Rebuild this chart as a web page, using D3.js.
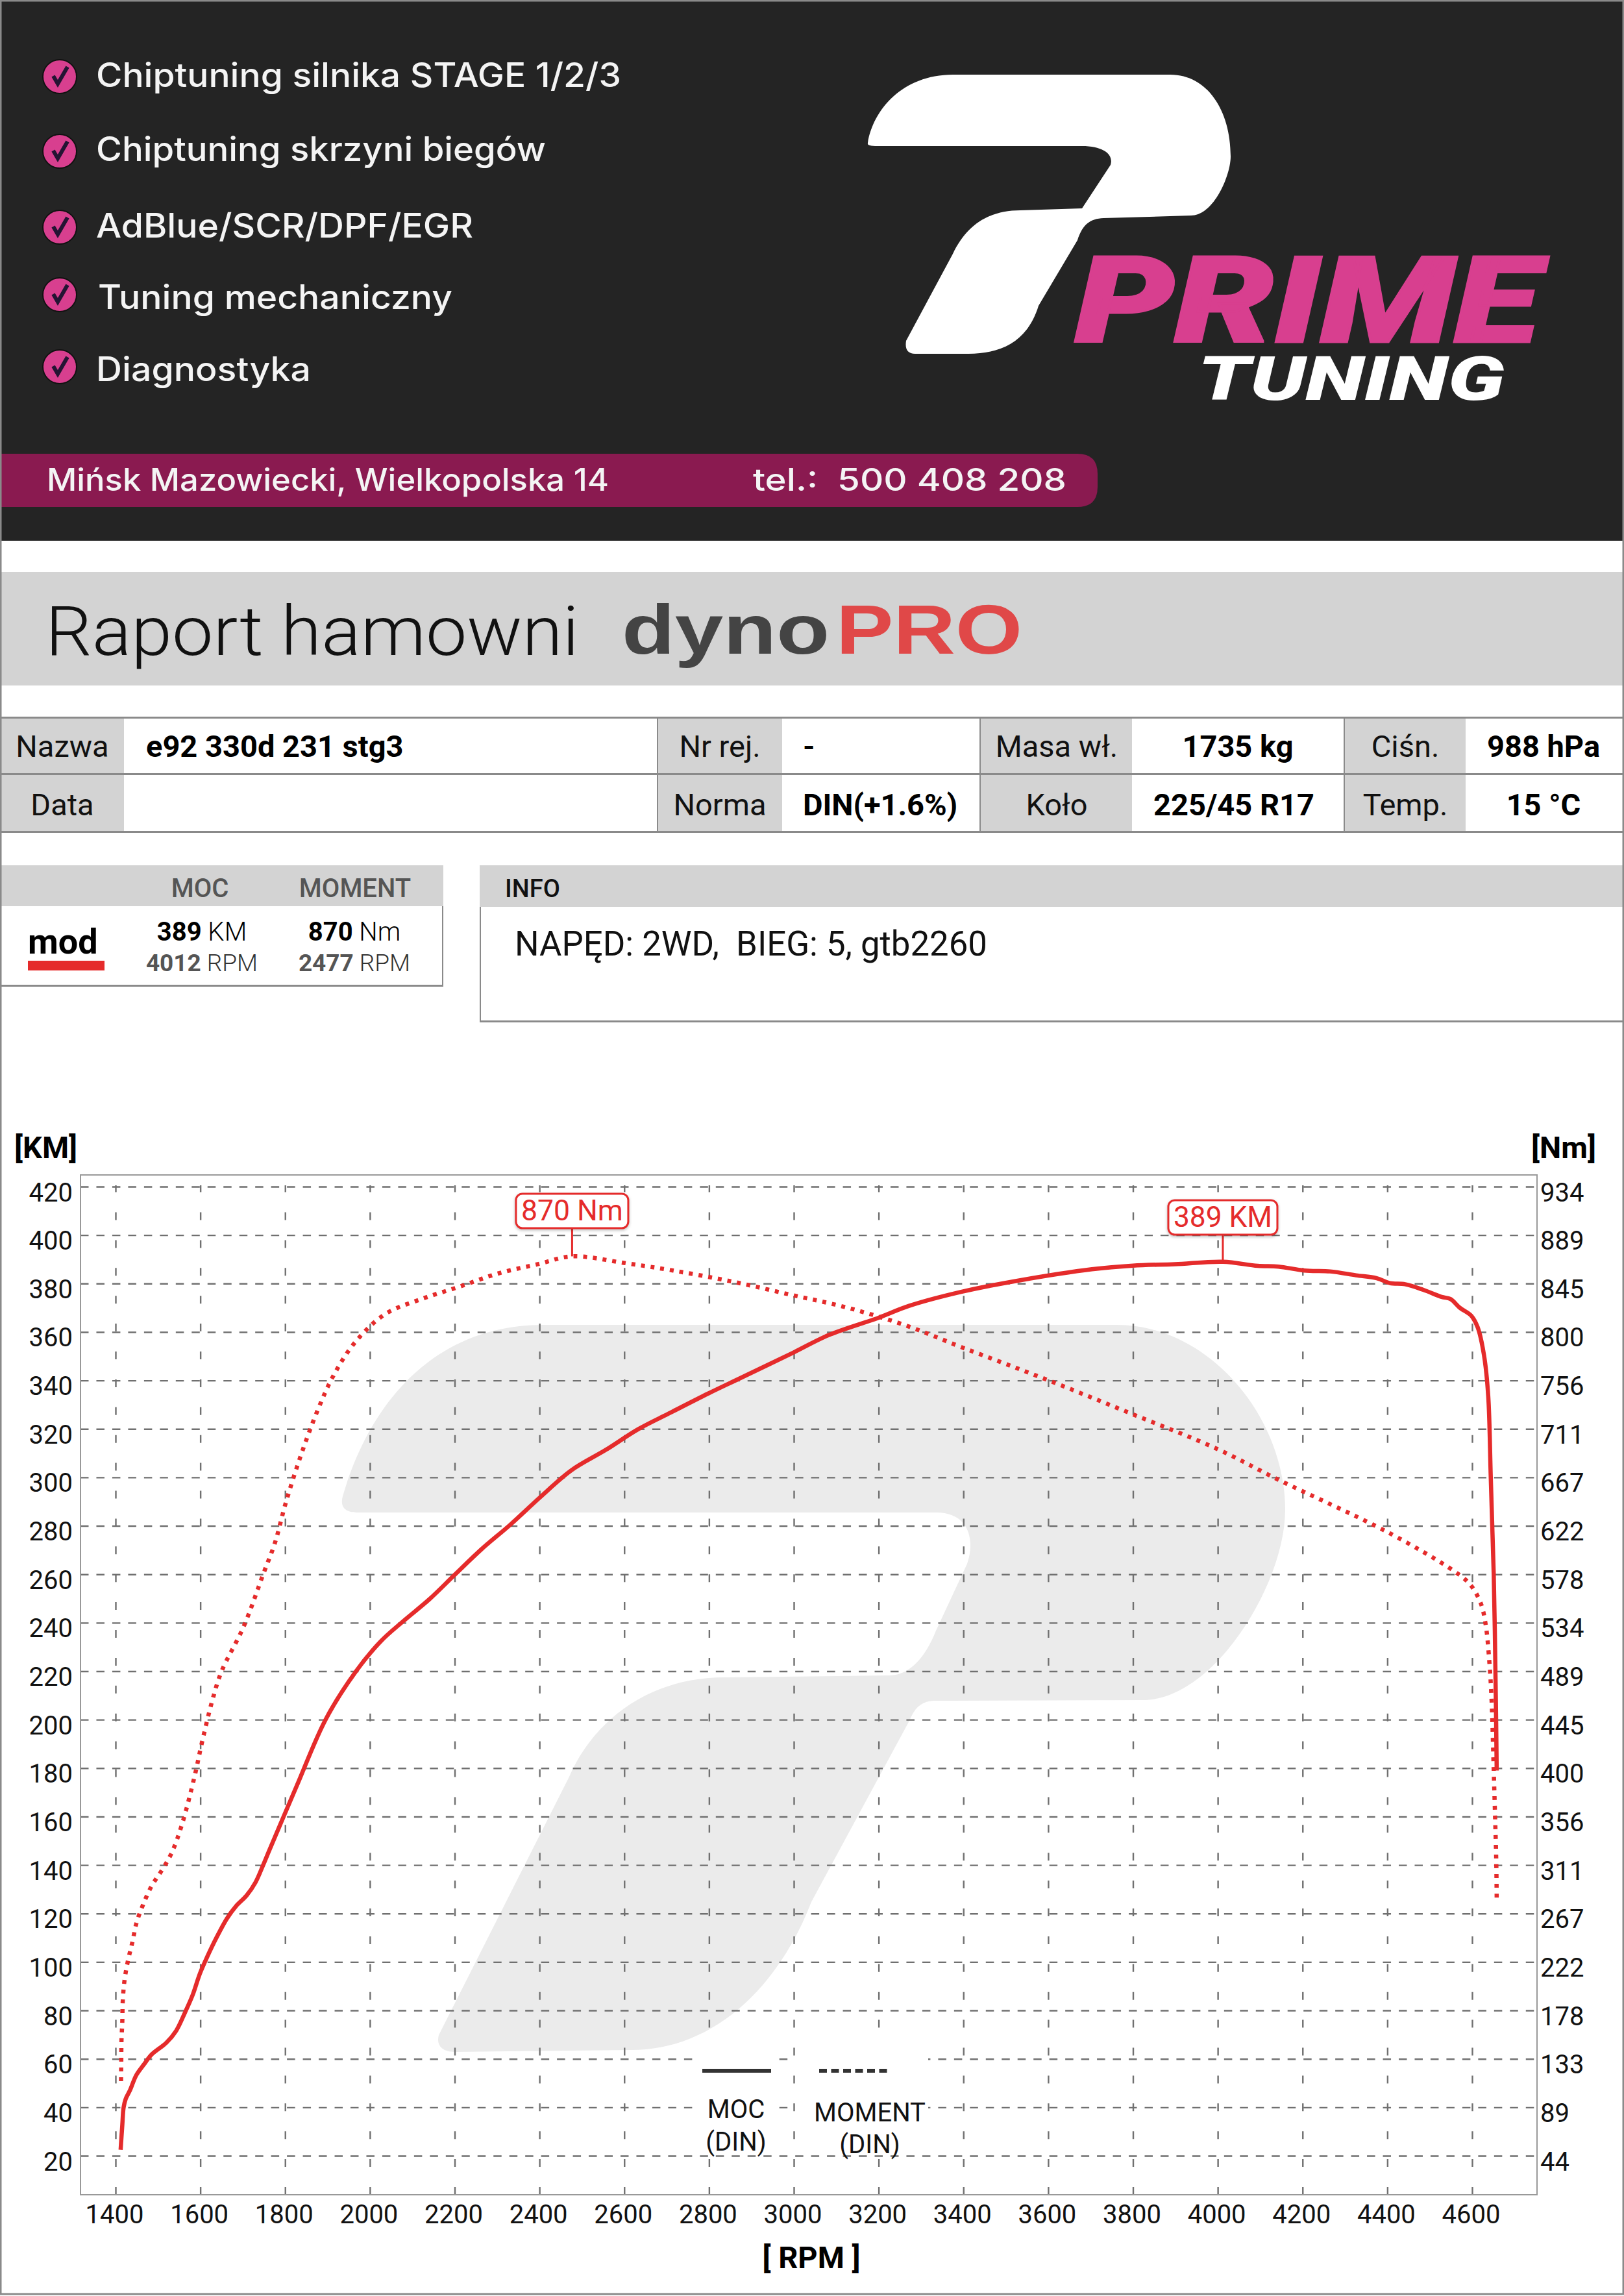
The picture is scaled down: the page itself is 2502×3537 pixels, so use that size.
<!DOCTYPE html>
<html>
<head>
<meta charset="utf-8">
<title>Raport hamowni</title>
<script src="https://d3js.org/d3.v7.min.js"></script>
<style>
  html, body { margin: 0; padding: 0; background: #fff; }
  svg { display: block; }
  text { font-family: Roboto, sans-serif; }
</style>
</head>
<body>
<div id="chart"></div>
<script>
// values
var rpmTicks = [1400, 1600, 1800, 2000, 2200, 2400, 2600, 2800, 3000, 3200, 3400, 3600, 3800, 4000, 4200, 4400, 4600];
var kmTicks = [20, 40, 60, 80, 100, 120, 140, 160, 180, 200, 220, 240, 260, 280, 300, 320, 340, 360, 380, 400, 420];
var nmTicks = [44, 89, 133, 178, 222, 267, 311, 356, 400, 445, 489, 534, 578, 622, 667, 711, 756, 800, 845, 889, 934];

var powerRpm = [1412, 1416, 1419, 1424, 1434, 1449, 1467, 1485, 1520, 1543, 1564, 1582, 1599, 1617, 1638, 1663, 1684, 1709, 1730, 1748, 1763,
    1827, 1896, 1967, 2026, 2077, 2141, 2199, 2263, 2332, 2401, 2475,
    2557, 2633, 2710, 2798, 2873, 3000, 3082, 3200, 3272, 3398,
    3532, 3703, 3800, 3899, 4012, 4094, 4143, 4204, 4265, 4326, 4375, 4406, 4442, 4485, 4528, 4549, 4571, 4598, 4613, 4628, 4638,
    4644, 4651, 4656, 4658];
var powerKm = [22.5, 32.8, 39.9, 43.5, 47, 53.3, 57.7, 61.8, 66.7, 71.6, 79.2, 86.4, 95.2, 102.4, 110, 118, 123, 127.4, 132.8, 139.9, 146.2,
    172.5, 200.2, 219.9, 232.4, 240.4, 249.8, 259.6, 270.3, 280.6, 291.7, 302.9,
    311.4, 319.9, 326.8, 334.6, 340.9, 351.6, 358.7, 365.9, 370.8, 376.7,
    381.3, 385.9, 387.4, 388, 389, 387.3, 387, 385.4, 385, 383.4, 382.2, 380.2, 379.7, 377.4, 374.5, 373.6, 370, 366.7, 362, 350.5, 333.6,
    300, 260, 208, 179];

var torqueRpm = [1413, 1413.5, 1414, 1416, 1417, 1421, 1429, 1440, 1450, 1465, 1485, 1510, 1533, 1557, 1586, 1604, 1628, 1650, 1702, 1750, 1776, 1801,
    1836, 1877, 1916, 1967, 2036, 2123, 2210, 2300, 2398, 2477, 2599, 2715, 2853, 2990, 3125, 3261,
    3400, 3602, 3800, 4000, 4143, 4400, 4558, 4595, 4620, 4632, 4641, 4646, 4651, 4654, 4657, 4658];
var torqueNm = [113, 131, 150, 168, 186, 205, 223, 241, 259, 275, 292, 307, 323, 349, 392, 424, 462, 489, 530, 580, 607, 643,
    686, 729, 762, 792, 817, 831, 842, 854, 863, 870, 864, 857, 847, 835, 823, 807,
    786, 756, 725, 693, 665, 617, 581, 569, 552, 532, 496, 462, 398, 358, 314, 279];

var services = ["Chiptuning silnika STAGE 1/2/3", "Chiptuning skrzyni biegów", "AdBlue/SCR/DPF/EGR", "Tuning mechaniczny", "Diagnostyka"];

var W = 2502, H = 3537;
var red = "#e52b2b", pink = "#d83f8f", band = "#d3d3d3", rule = "#8a8a8a";

var x = d3.scaleLinear().domain([1400, 4600]).range([178, 2268]);
var y = d3.scaleLinear().domain([20, 420]).range([3321, 1828]);
var yNm = d3.scaleLinear().domain([20 * 934 / 420, 934]).range([3321, 1828]);

var plot = {left: 124, right: 2368, top: 1810, bottom: 3381};

var svg = d3.select("#chart").append("svg").attr("width", W).attr("height", H);

function label(parent, str, px, py, size, opts) {
    opts = opts || {};
    var t = parent.append("text")
        .attr("x", px).attr("y", py)
        .attr("font-size", size)
        .attr("fill", opts.fill || "#000")
        .attr("font-weight", opts.weight || 400)
        .attr("text-anchor", opts.anchor || "start")
        .text(str);
    if (opts.family) t.style("font-family", opts.family);
    if (opts.style) t.attr("font-style", opts.style);
    if (opts.width) t.attr("textLength", opts.width).attr("lengthAdjust", "spacingAndGlyphs");
    return t;
}

function rect(parent, x0, y0, w, h, fill) {
    return parent.append("rect").attr("x", x0).attr("y", y0).attr("width", w).attr("height", h).attr("fill", fill);
}

function drawBanner(g) {
    rect(g, 0, 0, W, 833, "#242424");

    var bulletY = [118, 233, 350, 454, 565];
    var baseY = [134, 248, 366, 476, 587];
    var textX = [148, 148, 148, 151, 148];
    var textW = [809, 693, 581, 546, 331];
    services.forEach(function(s, i) {
        var b = g.append("g").attr("transform", "translate(92," + bulletY[i] + ")");
        b.append("circle").attr("r", 26).attr("fill", pink).attr("stroke", "#111").attr("stroke-width", 2);
        b.append("path").attr("d", "M-10,-1 L-3,11 L12,-15").attr("fill", "none").attr("stroke", "#241433").attr("stroke-width", 6);
        label(g, s, textX[i], baseY[i], 52, {fill: "#f4f4f4", weight: 500, family: "Inter, sans-serif", width: textW[i]});
    });

    // big P of the logo
    g.append("path")
        .attr("fill", "#fff")
        .attr("d", "M1337,220 C1345,170 1390,115 1468,115 L1803,115 C1860,115 1896,170 1896,241 " +
            "C1896,270 1870,332 1835,332 L1700,336 C1680,337 1668,345 1660,370 L1600,471 " +
            "C1585,520 1550,545 1492,545 L1410,545 C1398,545 1394,538 1396,525 L1468,391 " +
            "C1490,345 1525,324 1572,324 L1667,321 L1711,254 C1716,238 1700,225 1667,225 L1352,225 " +
            "C1340,225 1336,224 1337,220 Z");

    label(g, "PRIME", 1656, 527, 186, {fill: pink, weight: 900, style: "italic", width: 716})
        .attr("stroke", pink).attr("stroke-width", 3);
    label(g, "TUNING", 1845, 616, 95, {fill: "#fff", weight: 900, style: "italic", width: 473});

    g.append("path")
        .attr("fill", "#8a1a50")
        .attr("d", "M0,699 H1660 Q1691,699 1691,730 V750 Q1691,781 1660,781 H0 Z");
    label(g, "Mińsk Mazowiecki, Wielkopolska 14", 72, 756, 48, {fill: "#f4f4f4", weight: 500, family: "Inter, sans-serif", width: 866});
    label(g, "tel.:  500 408 208", 1160, 756, 48, {fill: "#f4f4f4", weight: 500, family: "Inter, sans-serif", width: 483}).attr("xml:space", "preserve");
}

function drawTitle(g) {
    rect(g, 0, 881, W, 175, band);
    label(g, "Raport hamowni", 70, 1009, 106, {weight: 300, fill: "#111", width: 822});
    label(g, "dyno", 958, 1007, 108, {weight: 700, fill: "#444", family: "'Liberation Sans', sans-serif", width: 320});
    label(g, "PRO", 1288, 1007, 108, {weight: 700, fill: "#e04848", family: "'Liberation Sans', sans-serif", width: 287});
}

function drawTable(g) {
    var cells = [[0, 191], [1013, 1205], [1510, 1744], [2071, 2258]];
    cells.forEach(function(c) { rect(g, c[0], 1106, c[1] - c[0], 176, band); });
    [1106, 1193, 1282].forEach(function(v) { rect(g, 0, v - 2, W, 3, rule); });
    [1013, 1510, 2071].forEach(function(v) { rect(g, v - 1, 1106, 2, 176, rule); });

    var r1 = 1166, r2 = 1256, fs = 47;
    [["Nazwa", 96, r1], ["Data", 96, r2], ["Nr rej.", 1109, r1], ["Norma", 1109, r2],
     ["Masa wł.", 1628, r1], ["Koło", 1628, r2], ["Ciśn.", 2165, r1], ["Temp.", 2165, r2]].forEach(function(c) {
        label(g, c[0], c[1], c[2], fs, {anchor: "middle", fill: "#111"});
    });
    [["e92 330d 231 stg3", 225, r1, "start"], ["-", 1237, r1, "start"], ["DIN(+1.6%)", 1237, r2, "start"],
     ["1735 kg", 1907, r1, "middle"], ["225/45 R17", 1901, r2, "middle"],
     ["988 hPa", 2378, r1, "middle"], ["15 °C", 2378, r2, "middle"]].forEach(function(c) {
        label(g, c[0], c[1], c[2], fs, {anchor: c[3], weight: 700});
    });
}

function drawSummary(g) {
    rect(g, 0, 1333, 683, 63, band);
    rect(g, 0, 1517, 683, 3, rule);
    rect(g, 681, 1396, 2, 124, rule);
    label(g, "MOC", 308, 1382, 40, {anchor: "middle", weight: 500, fill: "#555"});
    label(g, "MOMENT", 547, 1382, 40, {anchor: "middle", weight: 500, fill: "#555"});
    label(g, "mod", 43, 1469, 54, {weight: 700});
    rect(g, 43, 1480, 118, 15, red);

    var v1 = label(g, "389", 311, 1449, 40, {anchor: "middle", weight: 700});
    v1.append("tspan").attr("font-weight", 300).text(" KM");
    var v2 = label(g, "870", 546, 1449, 40, {anchor: "middle", weight: 700});
    v2.append("tspan").attr("font-weight", 300).text(" Nm");
    var r1 = label(g, "4012", 311, 1496, 37, {anchor: "middle", weight: 700, fill: "#555"});
    r1.append("tspan").attr("font-weight", 300).attr("fill", "#333").text(" RPM");
    var r2 = label(g, "2477", 546, 1496, 37, {anchor: "middle", weight: 700, fill: "#555"});
    r2.append("tspan").attr("font-weight", 300).attr("fill", "#333").text(" RPM");

    rect(g, 739, 1333, W - 739, 64, band);
    rect(g, 739, 1397, 2, 177, rule);
    rect(g, 739, 1572, W - 739, 3, rule);
    label(g, "INFO", 778, 1382, 38, {weight: 500, fill: "#111"});
    label(g, "NAPĘD: 2WD,  BIEG: 5, gtb2260", 793, 1472, 54, {fill: "#111", width: 728}).attr("xml:space", "preserve");
}

function drawChart(g) {
    // logo watermark
    g.append("path")
        .attr("fill", "#ebebeb")
        .attr("d", "M528,2305 C570,2160 670,2041 837,2041 L1721,2041 " +
            "C1860,2041 1980,2180 1980,2326 C1980,2440 1870,2619 1761,2619 " +
            "L1442,2620 C1420,2620 1410,2630 1402,2649 L1250,2930 " +
            "C1200,3060 1100,3158 973,3158 L701,3161 C680,3161 672,3150 676,3135 " +
            "L877,2737 C915,2650 1000,2584 1116,2584 L1370,2581 " +
            "C1400,2581 1425,2555 1442,2512 L1490,2409 C1502,2375 1495,2330 1442,2330 " +
            "L550,2330 C530,2330 524,2320 528,2305 Z");

    // grid through the axes' own tick lines
    var gridH = g.append("g").attr("transform", "translate(" + plot.left + ",0)")
        .call(d3.axisRight(y).tickValues(kmTicks).tickSize(plot.right - plot.left).tickFormat(""));
    gridH.select(".domain").remove();
    gridH.selectAll("line").attr("stroke", "#707070").attr("stroke-width", 2.4).attr("stroke-dasharray", "12.5 11.97");

    var gridV = g.append("g").attr("transform", "translate(0," + plot.bottom + ")")
        .call(d3.axisTop(x).tickValues(rpmTicks).tickSize(plot.bottom - 1826).tickFormat(""));
    gridV.select(".domain").remove();
    gridV.selectAll("line").attr("stroke", "#707070").attr("stroke-width", 2.4).attr("stroke-dasharray", "12 30.9");

    g.append("rect")
        .attr("x", plot.left).attr("y", plot.top)
        .attr("width", plot.right - plot.left).attr("height", plot.bottom - plot.top)
        .attr("fill", "none").attr("stroke", "#999").attr("stroke-width", 2);

    // legend knocks the grid out behind it
    rect(g, 1068, 3148, 132, 172, "#fff");
    rect(g, 1225, 3148, 205, 172, "#fff");
    rect(g, 1082, 3187, 106, 6, "#333");
    g.append("line").attr("x1", 1262).attr("x2", 1368).attr("y1", 3190).attr("y2", 3190)
        .attr("stroke", "#333").attr("stroke-width", 6).attr("stroke-dasharray", "12 6.5");
    label(g, "MOC", 1134, 3263, 40, {anchor: "middle", fill: "#111"});
    label(g, "(DIN)", 1134, 3313, 40, {anchor: "middle", fill: "#111"});
    label(g, "MOMENT", 1340, 3268, 40, {anchor: "middle", fill: "#111"});
    label(g, "(DIN)", 1340, 3317, 40, {anchor: "middle", fill: "#111"});

    var axisFont = 40;
    var left = g.append("g").attr("transform", "translate(" + plot.left + ",0)")
        .call(d3.axisLeft(y).tickValues(kmTicks).tickSize(0).tickPadding(12));
    var right = g.append("g").attr("transform", "translate(" + plot.right + ",0)")
        .call(d3.axisRight(y).tickValues(kmTicks).tickSize(0).tickPadding(5)
            .tickFormat(function(d, i) { return nmTicks[i]; }));
    var bottom = g.append("g").attr("transform", "translate(-2," + plot.bottom + ")")
        .call(d3.axisBottom(x).tickValues(rpmTicks).tickSize(0).tickPadding(16).tickFormat(d3.format("d")));
    [left, right, bottom].forEach(function(a) {
        a.select(".domain").remove();
        a.selectAll("text").attr("font-size", axisFont).attr("fill", "#111").style("font-family", "Roboto, sans-serif");
    });
    left.selectAll("text").attr("dy", "0.75em").attr("y", -8);
    right.selectAll("text").attr("dy", "0.75em").attr("y", -8);

    label(g, "[KM]", 22, 1784, 47, {weight: 700});
    label(g, "[Nm]", 2359, 1784, 47, {weight: 700});
    label(g, "[ RPM ]", 1250, 3494, 47, {weight: 700, anchor: "middle"});

    // curves
    var curve = d3.curveCatmullRom.alpha(0.5);
    var powerLine = d3.line()
        .x(function(d, i) { return x(powerRpm[i]); })
        .y(function(d) { return y(d); })
        .curve(curve);
    var torqueLine = d3.line()
        .x(function(d, i) { return x(torqueRpm[i]); })
        .y(function(d) { return yNm(d); })
        .curve(curve);

    g.append("path").attr("d", torqueLine(torqueNm)).attr("fill", "none")
        .attr("stroke", red).attr("stroke-width", 6.5).attr("stroke-dasharray", "6 9");
    g.append("path").attr("d", powerLine(powerKm)).attr("fill", "none")
        .attr("stroke", red).attr("stroke-width", 6.5);

    // peak callouts
    [{str: "870 Nm", rpm: 2477, py: yNm(870), top: 1839, w: 173},
     {str: "389 KM", rpm: 4012, py: y(389), top: 1849, w: 168}].forEach(function(c) {
        var cx = x(c.rpm);
        g.append("line").attr("x1", cx).attr("x2", cx).attr("y1", c.top + 52).attr("y2", c.py)
            .attr("stroke", red).attr("stroke-width", 3);
        g.append("rect").attr("x", cx - c.w / 2).attr("y", c.top).attr("width", c.w).attr("height", 53)
            .attr("rx", 10).attr("fill", "#fff").attr("stroke", red).attr("stroke-width", 3)
            .style("filter", "drop-shadow(0 2px 2px rgba(0,0,0,0.25))");
        label(g, c.str, cx, c.top + 41, 45, {anchor: "middle", fill: red, width: c.w - 16});
    });
}

drawBanner(svg.append("g"));
drawTitle(svg.append("g"));
drawTable(svg.append("g"));
drawSummary(svg.append("g"));
drawChart(svg.append("g"));

// page frame
svg.append("rect").attr("x", 1).attr("y", 1).attr("width", W - 2).attr("height", H - 4)
    .attr("fill", "none").attr("stroke", rule).attr("stroke-width", 3);
</script>
</body>
</html>
